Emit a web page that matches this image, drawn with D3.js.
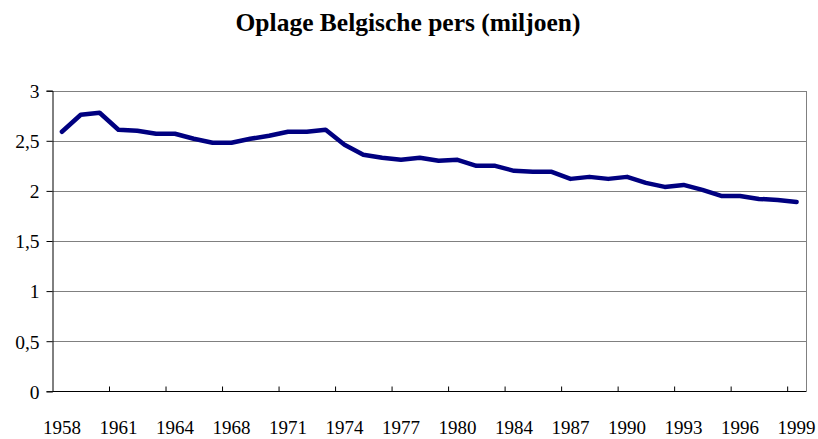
<!DOCTYPE html>
<html><head><meta charset="utf-8">
<script src="https://cdn.jsdelivr.net/npm/d3@7"></script>
<style>
body{margin:0;background:#fff;}
svg{display:block;}
</style></head>
<body>
<svg id="chart" width="818" height="439"></svg>
<script>
const title = "Oplage Belgische pers (miljoen)";
const years = ["1958","1959","1960","1961","1962","1963","1964","1965","1966","1968",
  "1969","1970","1971","1972","1973","1974","1975","1976","1977","1978",
  "1979","1980","1981","1982","1984","1985","1986","1987","1988","1989",
  "1990","1991","1992","1993","1994","1995","1996","1997","1998","1999"];
const values = [2.59,2.76,2.78,2.61,2.60,2.57,2.57,2.52,2.48,2.48,
  2.52,2.55,2.59,2.59,2.61,2.46,2.36,2.33,2.31,2.33,
  2.30,2.31,2.25,2.25,2.20,2.19,2.19,2.12,2.14,2.12,
  2.14,2.08,2.04,2.06,2.01,1.95,1.95,1.92,1.91,1.89];
const yTicks = [0,0.5,1,1.5,2,2.5,3];
const yTickLabels = ["0","0,5","1","1,5","2","2,5","3"];
const labelYears = years.filter((d,i)=>i%3===0);

const FONT = '"Liberation Serif","Times New Roman",serif';
const svg = d3.select("#chart");
const L = 52.5, R = 806, T = 90.7, B = 391.3;

const x = d3.scaleBand().domain(years).range([L,R]).padding(0);
const xi = d3.scaleLinear().domain([0,years.length]).range([L,R]);
const y = d3.scaleLinear().domain([0,3]).range([B,T]);

// title
svg.append("text").attr("x",408).attr("y",31).attr("text-anchor","middle")
  .style("font-family",FONT).style("font-size","25.5px").style("font-weight","bold")
  .style("fill","#000").text(title);

// gridlines
svg.append("g").selectAll("line").data(yTicks.filter(d=>d>0)).join("line")
  .attr("x1",L).attr("x2",R).attr("y1",d=>Math.round(y(d))+0.5).attr("y2",d=>Math.round(y(d))+0.5)
  .attr("stroke","#808080").attr("stroke-width",1);
// right border
svg.append("line").attr("x1",R+0.5).attr("x2",R+0.5).attr("y1",Math.round(T)).attr("y2",Math.round(B)+1)
  .attr("stroke","#808080").attr("stroke-width",1);

// y axis
const yAxis = svg.append("g").attr("transform",`translate(${L},0)`)
  .call(d3.axisLeft(y).tickValues(yTicks).tickSize(6).tickPadding(7)
    .tickFormat((d,i)=>yTickLabels[i]));
yAxis.select(".domain").attr("stroke","#000");
yAxis.selectAll(".tick line").attr("stroke","#000");
yAxis.selectAll(".tick text").style("font-family",FONT).style("font-size","19.5px")
  .style("fill","#000").attr("dy","0.35em");

// x axis ticks at category boundaries
const xTickIdx = d3.range(3, years.length, 3);
const xAxis = svg.append("g").attr("transform",`translate(0,${Math.round(B)+0.5})`)
  .call(d3.axisBottom(xi).tickValues(xTickIdx).tickSize(-5).tickFormat(""));
xAxis.select(".domain").attr("d",`M${L},0H${R}`).attr("stroke","#000");
xAxis.selectAll(".tick line").attr("stroke","#000");

// x labels
const xLab = svg.append("g").attr("transform",`translate(0,${Math.round(B)})`)
  .call(d3.axisBottom(x).tickValues(labelYears).tickSize(0).tickPadding(0));
xLab.select(".domain").remove();
xLab.selectAll(".tick text").style("font-family",FONT).style("font-size","19px")
  .style("fill","#000").attr("y",43).attr("dy","0");

// line
svg.append("path").datum(values)
  .attr("fill","none").attr("stroke","#000080").attr("stroke-width",4.5)
  .attr("stroke-linejoin","round").attr("stroke-linecap","round")
  .attr("d", d3.line().x((d,i)=>x(years[i])+x.bandwidth()/2).y(d=>y(d)));
</script>
</body></html>
